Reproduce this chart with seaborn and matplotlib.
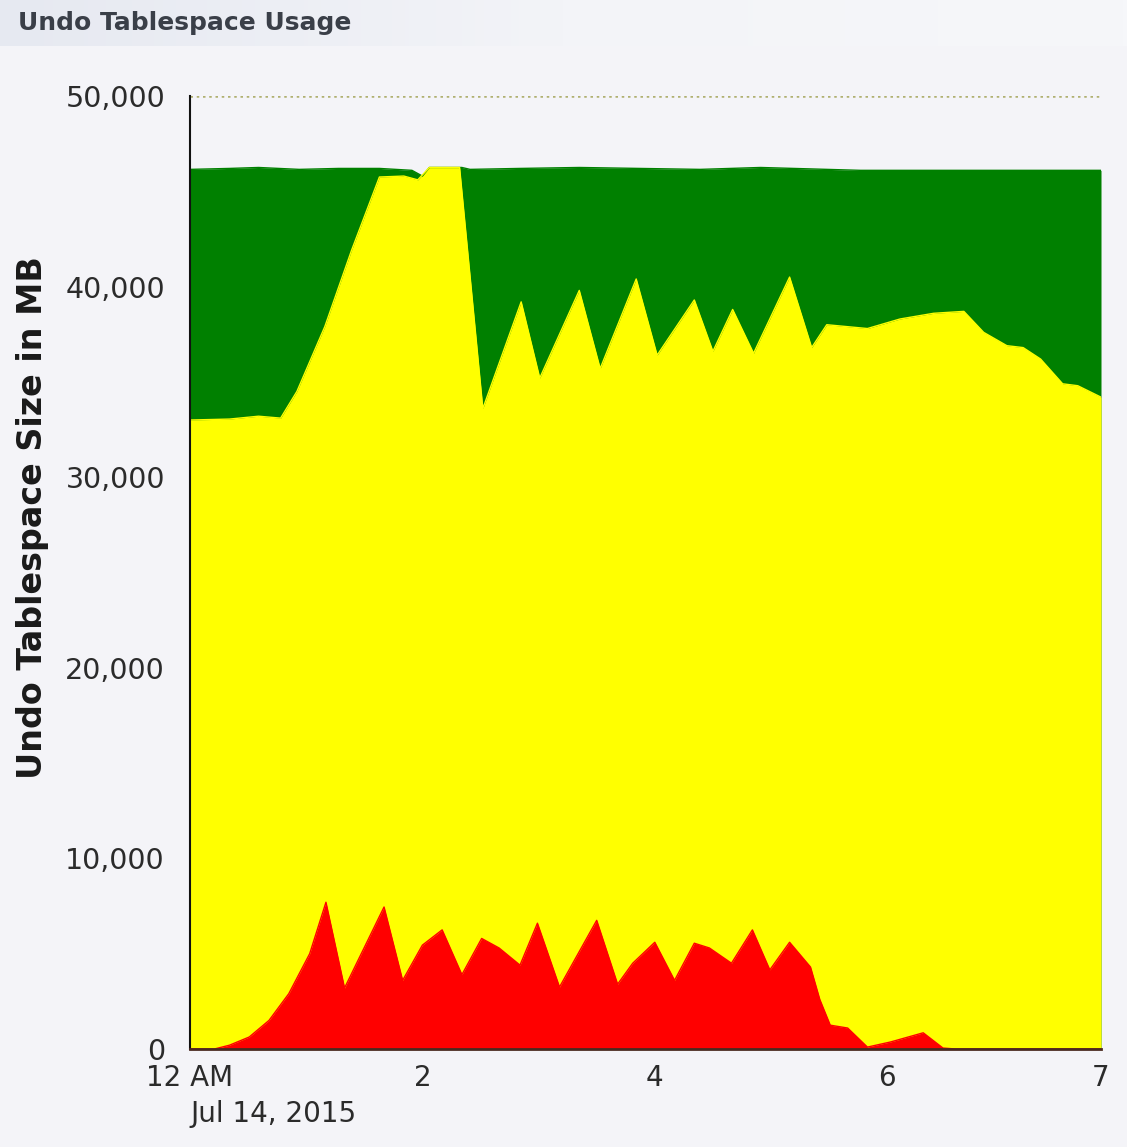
import numpy as np
import pandas as pd
import seaborn as sns
import matplotlib.pyplot as plt
from matplotlib.ticker import FuncFormatter

# hours after midnight, Jul 14 2015
total_hours = [0.00, 0.34, 0.59, 0.94, 1.28, 1.63, 1.91, 2.00, 2.06, 2.34, 2.41,
               2.84, 3.35, 3.87, 4.39, 4.91, 5.77, 7.84]
total_mb = [46150, 46200, 46250, 46150, 46200, 46200, 46100, 45800, 46250, 46250, 46150,
            46200, 46250, 46200, 46150, 46250, 46100, 46100]

unexpired_hours = [0.00, 0.34, 0.59, 0.78, 0.92, 1.16, 1.39, 1.63, 1.84, 1.96, 2.06,
                   2.32, 2.52, 2.85, 3.01, 3.35, 3.53, 3.84, 4.02, 4.34, 4.50, 4.67,
                   4.85, 5.16, 5.35, 5.48, 5.83, 6.11, 6.40, 6.66, 6.83, 7.03, 7.17,
                   7.32, 7.51, 7.64, 7.84]
unexpired_mb = [33000, 33050, 33200, 33100, 34500, 37900, 41900, 45750, 45800, 45600, 46250,
                46250, 33600, 39200, 35200, 39800, 35700, 40400, 36400, 39300, 36600, 38800,
                36500, 40500, 36800, 38000, 37800, 38300, 38600, 38700, 37600, 36900, 36800,
                36200, 34900, 34800, 34200]

active_hours = [0.00, 0.21, 0.34, 0.51, 0.68, 0.85, 1.03, 1.17, 1.33, 1.67, 1.83, 2.00,
                2.17, 2.34, 2.51, 2.66, 2.84, 2.99, 3.18, 3.50, 3.68, 3.81, 4.00, 4.17,
                4.34, 4.47, 4.66, 4.84, 4.99, 5.16, 5.34, 5.42, 5.51, 5.66, 5.83, 6.03,
                6.31, 6.48, 6.59, 7.84]
active_mb = [0, 0, 200, 630, 1500, 2900, 5000, 7700, 3200, 7450, 3600, 5450,
             6250, 3900, 5800, 5300, 4400, 6600, 3250, 6750, 3400, 4500, 5600, 3600,
             5550, 5300, 4500, 6250, 4150, 5600, 4300, 2600, 1250, 1100, 100, 370,
             850, 50, 0, 0]

x_ticks = [0, 2, 4, 6, 7.84]
x_labels = ["12 AM", "2", "4", "6", "7"]

sns.set_style("white")
plt.rcParams['font.family'] = ['DejaVu Sans']
bg = '#F4F4F8'

fig = plt.figure(figsize=(11.27, 11.47), dpi=100, facecolor=bg)

# title bar
tb = fig.add_axes([0, 1 - 46 / 1147, 1, 46 / 1147])
grad = np.linspace(0, 1, 256).reshape(1, -1)
tb.imshow(grad, aspect='auto', cmap=plt.matplotlib.colors.LinearSegmentedColormap.from_list(
    'tb', ['#E6E9F1', '#F3F4F8', '#F6F7FA']), extent=[0, 1, 0, 1])
tb.set_axis_off()
fig.text(18 / 1127, 1 - 23 / 1147, "Undo Tablespace Usage", fontsize=18, fontweight='bold',
         color='#3A3F48', va='center', ha='left')

ax = fig.add_axes([190 / 1127, 98 / 1147, 911 / 1127, 953 / 1147])
ax.set_facecolor(bg)

layers = [
    (total_hours, total_mb, '#008000'),
    (unexpired_hours, unexpired_mb, '#FFFF00'),
    (active_hours, active_mb, '#FF0000'),
]
for hrs, mb, col in layers:
    df = pd.DataFrame({'hours': hrs, 'mb': mb})
    ax.fill_between(df['hours'], 0, df['mb'], color=col, linewidth=0, zorder=2)
    sns.lineplot(data=df, x='hours', y='mb', ax=ax, color=col, linewidth=1, zorder=3)

ax.set_xlim(0, 7.84)
ax.set_ylim(0, 50000)
ax.axhline(50000, color='#B0B070', linestyle=(0, (1, 1.5)), linewidth=1.8, zorder=1)

ax.set_yticks([0, 10000, 20000, 30000, 40000, 50000])
ax.yaxis.set_major_formatter(FuncFormatter(lambda v, p: f"{int(v):,}"))
ax.set_xticks(x_ticks)
ax.set_xticklabels(x_labels)
ax.tick_params(axis='y', length=0, labelsize=20.5, labelcolor='#2B2B2B', pad=18)
ax.tick_params(axis='x', direction='in', length=8, color='#E8E8E8', labelsize=20,
               labelcolor='#2B2B2B', pad=11)

ax.set_xlabel('')
ax.set_ylabel('Undo Tablespace Size in MB', fontsize=24, fontweight='bold',
              color='#1A1A1A')
ax.yaxis.set_label_coords(-0.155, 0.558)
ax.text(0, -0.053, "Jul 14, 2015", transform=ax.transAxes, fontsize=20,
        color='#2B2B2B', ha='left', va='top')

for s in ['top', 'right']:
    ax.spines[s].set_visible(False)
ax.spines['left'].set_color('#111111')
ax.spines['left'].set_linewidth(1.5)
ax.spines['bottom'].set_color('#4A2A20')
ax.spines['bottom'].set_linewidth(2)
ax.spines['left'].set_zorder(5)
ax.spines['bottom'].set_zorder(5)

fig.savefig('out.png', dpi=100, facecolor=bg)
